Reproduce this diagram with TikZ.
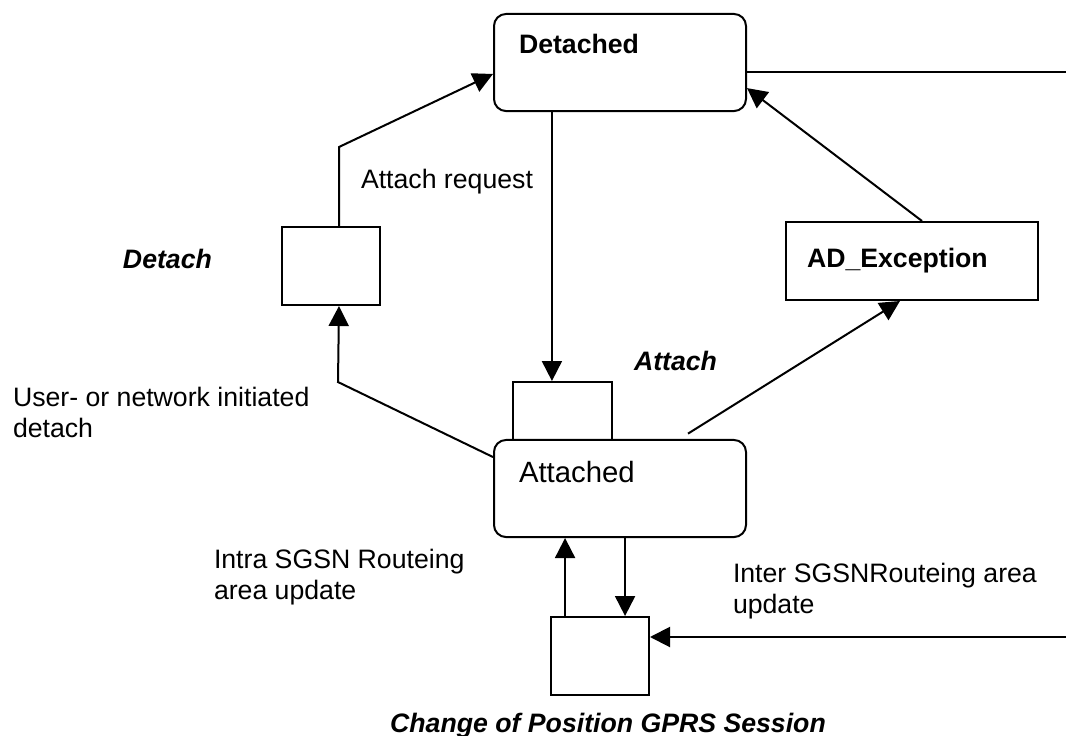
\documentclass[tikz,border=0pt]{standalone}
\usepackage{fontspec}
\setmainfont{Liberation Sans}
\usetikzlibrary{arrows.meta}
\begin{document}
\begin{tikzpicture}[x=0.375pt, y=-0.375pt, line width=0.75pt,
    state/.style = {draw, rounded corners=4.5pt, inner sep=0pt,
      minimum width=94.5pt, minimum height=36.4pt},
    box/.style = {draw, inner sep=0pt},
    arr/.style = {-{Triangle[length=7.5pt, width=7.5pt]}},
    txt/.style = {anchor=base west, inner sep=0pt, align=left,
      font=\fontsize{10}{11.5}\selectfont}]

    \useasboundingbox (0, 0) rectangle (1066, 736);

    % states
    \node[state] (det) at (620, 62.5) {};
    \node[state] (att) at (620, 488.5) {};
    \node[box, minimum width=94.5pt, minimum height=29.25pt] (adexc) at (912, 261) {};

    % transitions
    \node[box, minimum width=36.75pt, minimum height=29.25pt] (detachbox) at (331, 266) {};
    \node[box, minimum width=37.1pt, minimum height=21.75pt] (attachbox) at (562.5, 411) {};
    \node[box, minimum width=36.75pt, minimum height=29.25pt] (cop) at (600, 656) {};

    \coordinate (edgeTop) at (1066, 72);
    \coordinate (edgeBot) at (1066, 637);

    % texts
    \node[txt, font=\fontsize{10}{11.5}\selectfont\bfseries] (detTxt) at (518, 53) {Detached};
    \node[txt, font=\fontsize{11}{13}\selectfont] (attTxt) at (518, 482.5) {Attached};
    \node[txt, font=\fontsize{10}{11.5}\selectfont\bfseries] (adTxt) at (806, 267) {AD\_Exception};
    \node[txt] (reqTxt) at (360, 188) {Attach request};
    \node[txt, font=\fontsize{10}{11.5}\selectfont\bfseries\itshape] (detachTxt) at (122, 268) {Detach};
    \node[txt, font=\fontsize{10}{11.5}\selectfont\bfseries\itshape] (attachTxt) at (633, 370) {Attach};
    \node[txt] (userTxt) at (12, 437) {User- or network initiated\\detach};
    \node[txt] (intraTxt) at (213, 599) {Intra SGSN Routeing\\area update};
    \node[txt] (interTxt) at (732, 613) {Inter SGSNRouteing area\\update};
    \node[anchor=base, inner sep=0pt, font=\fontsize{10}{11.5}\selectfont\bfseries\itshape]
      (copTxt) at (608, 732) {Change of Position GPRS Session};

    % connectors
    \draw[arr] ([xshift=22.1pt]det.south west) -- ([xshift=22.1pt]det.south west |- attachbox.north);
    \draw[arr] ([xshift=3pt]detachbox.north) -- ++(0, -79) -- ([yshift=-4.3pt]det.west);
    \draw[arr] ([yshift=11.8pt]att.west) -- ++(-155, -75) -- ([xshift=3pt]detachbox.south);
    \draw[arr] ([xshift=25.5pt, yshift=2pt]att.north) -- ([xshift=-4.5pt]adexc.south);
    \draw[arr] ([xshift=3.75pt]adexc.north) -- ([yshift=-9.6pt]det.east);
    \draw (edgeTop -| det.east) -- (edgeTop);
    \draw[arr] (edgeBot) -- (cop.east |- edgeBot);
    \draw[arr] ([xshift=-13.1pt]cop.north) -- ([xshift=-13.1pt]cop.north |- att.south);
    \draw[arr] ([xshift=1.9pt]att.south) -- ([xshift=1.9pt]att.south |- cop.north);

\end{tikzpicture}
\end{document}
